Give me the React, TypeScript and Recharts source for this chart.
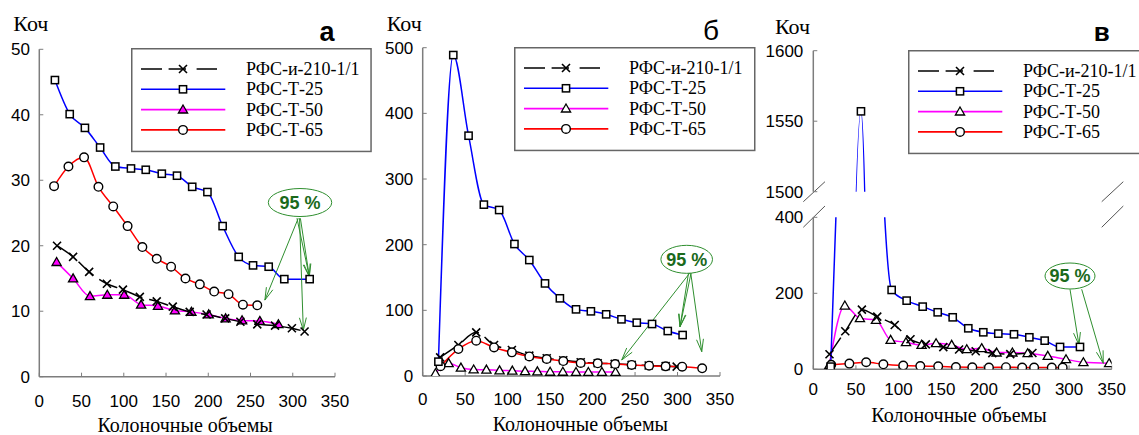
import React from "react";
import { LineChart, Line, XAxis, YAxis, ReferenceLine, ReferenceDot } from "recharts";

const SERIF = "'Liberation Serif', 'Times New Roman', serif";
const SANS = "'Liberation Sans', Arial, sans-serif";
const AXIS = "#7d7d7d";
const GREEN = "#2f8f2f";
const GREEN_TEXT = "#1b6a1b";

const NAMES = ["РФС-и-210-1/1", "РФС-Т-25", "РФС-Т-50", "РФС-Т-65"];
const KINDS = ["x", "square", "triangle", "circle"];
const COLORS = ["#000000", "#0000ff", "#ff00ff", "#ff0000"];
const DRAW_ORDER = [2, 0, 3, 1];
const X_TICKS = [0, 50, 100, 150, 200, 250, 300, 350];
const X_TITLE = "Колоночные объемы";
const Y_TITLE = "Коч";
const BADGE = "95 %";

// panel а
const A_Y_TICKS = [0, 10, 20, 30, 40, 50];
const A_I210_X = [21, 40, 59, 80, 99, 119, 139, 158, 178, 198, 220, 238, 258, 279, 299, 314];
const A_I210_Y = [20.0, 18.3, 16.0, 14.2, 13.3, 12.2, 11.5, 10.7, 9.9, 9.5, 8.9, 8.4, 8.0, 7.8, 7.4, 6.9];
const A_T25_X = [18.5, 36, 54, 72, 90, 108.5, 126, 145, 163, 181, 199, 217, 236, 253, 271.5, 290, 320];
const A_T25_Y = [45.3, 40.1, 38.0, 35.0, 32.1, 31.8, 31.6, 31.0, 30.7, 29.0, 28.2, 23.0, 18.3, 17.0, 16.8, 14.9, 14.9];
const A_T50_X = [20.5, 40, 60, 80.5, 100.5, 120.5, 140.5, 160.5, 180, 200.5, 220.5, 240, 261, 283];
const A_T50_Y = [17.5, 15.0, 12.3, 12.5, 12.5, 11.0, 10.8, 10.1, 9.9, 9.5, 8.9, 8.6, 8.5, 8.0];
const A_T65_X = [17.5, 34.5, 53, 70, 87.5, 104.5, 122, 139, 156, 173, 190, 207, 224, 241, 258];
const A_T65_Y = [29.1, 32.1, 33.5, 29.0, 26.0, 23.0, 19.8, 18.0, 16.8, 15.0, 14.1, 13.0, 12.6, 11.0, 10.9];
const A_BADGE_AT = { x: 308.6, y: 26.6 };
const A_ARROWS = [
  [{ x: 306.5, y: 24.2 }, { x: 267, y: 11.7 }],
  [{ x: 305, y: 24.2 }, { x: 319.6, y: 15.3 }],
  [{ x: 309, y: 24.2 }, { x: 319.6, y: 15.3 }],
  [{ x: 308, y: 24.2 }, { x: 312.5, y: 7.1 }],
];

// panel б
const B_Y_TICKS = [0, 100, 200, 300, 400, 500];
const B_I210_X = [20.5, 42, 63, 84, 105, 125.5, 146, 165.5, 186, 206, 226, 246, 266, 286, 299];
const B_I210_Y = [28.4, 47.2, 66.5, 47.2, 39.6, 31, 27, 24, 21, 19.5, 18.5, 17, 16, 15, 14.2];
const B_T25_X = [18.5, 36, 54, 72, 90, 108, 125.5, 144, 161.5, 180.5, 198, 216, 234, 252, 270, 288.5, 306];
const B_T25_Y = [21.8, 488.8, 366, 261, 252.8, 201, 176.6, 141, 118.3, 101.5, 98.5, 93.9, 86.3, 81.2, 79.2, 68.5, 62.4];
const B_T50_X = [15, 30.5, 45, 60, 75, 90.5, 105.5, 120.5, 135, 150, 165, 180.5, 195, 211, 227];
const B_T50_Y = [4, 19.5, 12.7, 9.8, 9.5, 8.5, 8, 7.3, 7, 6.3, 6.3, 6, 6, 6, 6];
const B_T65_X = [21, 42, 63, 84, 105, 125.5, 146, 165.5, 186, 206, 226.5, 246, 266.5, 286, 305.5, 329];
const B_T65_Y = [15, 41, 53.8, 43.5, 36, 29.8, 25.9, 22.8, 19.8, 19.3, 18.3, 16.8, 15.7, 14.7, 14.2, 11.7];
const B_BADGE_AT = { x: 310.8, y: 177.7 };
const B_ARROWS = [
  [{ x: 314.7, y: 157.3 }, { x: 234.3, y: 24.4 }],
  [{ x: 313, y: 157.3 }, { x: 302.9, y: 75.1 }],
  [{ x: 316, y: 157.3 }, { x: 302.9, y: 75.1 }],
  [{ x: 315.5, y: 157.3 }, { x: 328.5, y: 37 }],
];

// panel в (broken axis: 0–400 below, 1500–1600 above)
const C_BOT_TICKS = [0, 200, 400];
const C_TOP_TICKS = [1500, 1550, 1600];
const C_I210_X = [19, 37.5, 57, 75, 95.5, 114, 132, 152.5, 171, 190.5, 210, 231, 257];
const C_I210_Y = [39.5, 100, 157, 138.5, 116.6, 79, 65.5, 58.5, 52, 47.5, 42.5, 40, 43];
const C_T25_X = [20.4, 55.9, 91.9, 109.5, 128.3, 145.9, 163.5, 181.8, 199.4, 217, 235.4, 253.4, 271.4, 289.4, 312.8];
const C_T25_Y = [7, 1557, 208.8, 180.7, 164.9, 150, 136.8, 107.9, 97.4, 93.9, 92.1, 84.2, 75.4, 58.8, 58.8];
const C_T50_X = [18.8, 37, 54.7, 73.5, 90.7, 108.7, 127, 144, 162.3, 180, 197.5, 215, 233.5, 251.4, 275, 296.4, 316.8, 347];
const C_T50_Y = [11, 167.5, 134.2, 129.8, 77.2, 71.1, 64, 68.4, 64, 52.6, 55.3, 43.9, 43.9, 42.1, 35.1, 26.3, 18.4, 15.8];
const C_T65_X = [21, 42.3, 62, 82.2, 105.5, 125.5, 146.5, 167.3, 186.5, 206, 226, 245, 259, 279.7, 292.5];
const C_T65_Y = [12, 15, 18.5, 13.2, 10, 8.7, 7.9, 6.1, 5.2, 4.8, 5.6, 4.8, 4.8, 4.8, 4.8];
const C_BADGE_AT = { x: 301.1, y: 245.5 };
const C_ARROWS = [
  [{ x: 301.1, y: 210.5 }, { x: 311.6, y: 64 }],
  [{ x: 314.8, y: 210.5 }, { x: 340.1, y: 15.8 }],
];
const C_BREAK_TOP = [
  [{ x: -11.7, y: 1492.9 }, { x: 13.7, y: 1507.1 }],
  [{ x: 338.3, y: 1492.9 }, { x: 363.6, y: 1507.1 }],
];
const C_BREAK_BOT = [
  [{ x: -11.7, y: 373.7 }, { x: 13.7, y: 429.7 }],
  [{ x: 338.3, y: 373.7 }, { x: 363.6, y: 429.7 }],
];

type Pt = { x: number; y: number };
const zip = (xs: number[], ys: number[]): Pt[] => xs.map((x, i) => ({ x, y: ys[i] }));

const A_SETS = [zip(A_I210_X, A_I210_Y), zip(A_T25_X, A_T25_Y), zip(A_T50_X, A_T50_Y), zip(A_T65_X, A_T65_Y)];
const B_SETS = [zip(B_I210_X, B_I210_Y), zip(B_T25_X, B_T25_Y), zip(B_T50_X, B_T50_Y), zip(B_T65_X, B_T65_Y)];
const C_SETS = [zip(C_I210_X, C_I210_Y), zip(C_T25_X, C_T25_Y), zip(C_T50_X, C_T50_Y), zip(C_T65_X, C_T65_Y)];

function Marker({ kind, cx, cy, triFill }: { kind: string; cx?: number; cy?: number; triFill: string }) {
  if (cx == null || cy == null || isNaN(cx) || isNaN(cy)) return null;
  if (kind === "x")
    return <path d={`M${cx - 4},${cy - 4}L${cx + 4},${cy + 4}M${cx - 4},${cy + 4}L${cx + 4},${cy - 4}`} stroke="#000" strokeWidth={1.6} fill="none" />;
  if (kind === "square")
    return <rect x={cx - 3.6} y={cy - 3.6} width={7.2} height={7.2} fill="#fff" stroke="#000" strokeWidth={1.5} />;
  if (kind === "triangle")
    return <path d={`M${cx},${cy - 4.6}L${cx + 4.6},${cy + 3.4}L${cx - 4.6},${cy + 3.4}Z`} fill={triFill} stroke="#000" strokeWidth={1.3} />;
  return <circle cx={cx} cy={cy} r={4.3} fill="#fff" stroke="#000" strokeWidth={1.4} />;
}

function lines(sets: Pt[][], triFill: string, only?: number[]) {
  return DRAW_ORDER.filter((i) => !only || only.includes(i)).map((i) => (
    <Line key={`s${i}`} data={sets[i]} dataKey="y" type="monotone" stroke={COLORS[i]} strokeWidth={1.5}
      strokeDasharray={i === 0 ? "20 7" : undefined} activeDot={false} isAnimationActive={false}
      dot={(p: any) => <Marker key={`d${i}-${p.index}`} kind={KINDS[i]} cx={p.cx} cy={p.cy} triFill={triFill} />} />
  ));
}

const tickStyle = { fill: "#000", fontSize: 17, fontFamily: SANS };
const axisLine = { stroke: AXIS, strokeWidth: 1.5 };

function xAxis(height: number, tickMargin: number, labelOffset: number, dx: number, hide = false) {
  return (
    <XAxis key="x" dataKey="x" type="number" domain={[0, 350]} ticks={X_TICKS} interval={0} allowDataOverflow
      height={height} hide={hide} tickSize={-4} tickMargin={tickMargin} tick={tickStyle}
      axisLine={axisLine} tickLine={{ stroke: AXIS }}
      label={hide ? undefined : { value: X_TITLE, position: "insideBottom", offset: labelOffset, dx, fill: "#000", fontSize: 20, fontFamily: SERIF }} />
  );
}

function yAxis(width: number, domain: number[], ticks: number[], tickMargin: number) {
  return (
    <YAxis key="y" type="number" domain={domain} ticks={ticks} interval={0} allowDataOverflow width={width}
      tickSize={-4} tickMargin={tickMargin} tick={tickStyle} axisLine={axisLine} tickLine={{ stroke: AXIS }} />
  );
}

function frame(top: boolean) {
  const out = [
    <YAxis key="r" yAxisId="r" orientation="right" type="number" domain={[0, 1]} width={0} tick={false} tickLine={false} axisLine={axisLine} />,
  ];
  if (top)
    out.push(<XAxis key="t" xAxisId="t" orientation="top" type="number" domain={[0, 350]} height={0} tick={false} tickLine={false} axisLine={axisLine} />);
  return out;
}

const arrowShape = (p: any) => {
  const { x1, y1, x2, y2 } = p;
  const a = Math.atan2(y2 - y1, x2 - x1);
  const L = 13, w = 0.27;
  const b1 = `${x2 - L * Math.cos(a - w)},${y2 - L * Math.sin(a - w)}`;
  const b2 = `${x2 - L * Math.cos(a + w)},${y2 - L * Math.sin(a + w)}`;
  return (
    <g>
      <line x1={x1} y1={y1} x2={x2} y2={y2} stroke={GREEN} strokeWidth={1} />
      <path d={`M${b1}L${x2},${y2}L${b2}`} fill="none" stroke={GREEN} strokeWidth={1} />
    </g>
  );
};

function annotation(at: Pt, rx: number, ry: number, arrows: Pt[][]) {
  return [
    ...arrows.map((seg, i) => (
      <ReferenceLine key={`a${i}`} segment={seg} ifOverflow="visible" shape={arrowShape} />
    )),
    <ReferenceDot key="badge" x={at.x} y={at.y} ifOverflow="visible"
      shape={(p: any) => (
        <g>
          <ellipse cx={p.cx} cy={p.cy} rx={rx} ry={ry} fill="#fff" stroke={GREEN} strokeWidth={1} />
          <text x={p.cx} y={p.cy + 6.3} textAnchor="middle" fontFamily={SANS} fontWeight="bold" fontSize={18} fill={GREEN_TEXT}>{BADGE}</text>
        </g>
      )} />,
  ];
}

function breaks(segs: Pt[][]) {
  return segs.map((seg, i) => (
    <ReferenceLine key={`b${i}`} segment={seg} ifOverflow="visible" stroke="#555" strokeWidth={1} />
  ));
}

function LegendBox({ left, top, width, triFill }: { left: number; top: number; width: number; triFill: string }) {
  return (
    <svg style={{ position: "absolute", left, top, overflow: "visible" }} width={width + 2} height={106}>
      <rect x={0.75} y={0.75} width={width} height={102.7} fill="#fff" stroke="#666" strokeWidth={1.5} />
      {NAMES.map((n, i) => {
        const y = 21 + i * 20.3;
        return (
          <g key={n}>
            <line x1={10} x2={i === 0 ? 86 : 94.3} y1={y} y2={y} stroke={COLORS[i]} strokeWidth={1.6}
              strokeDasharray={i === 0 ? "21 6.6 17.4 10.6 21 100" : undefined} />
            <Marker kind={KINDS[i]} cx={52} cy={y} triFill={triFill} />
            <text x={115} y={y + 6} fontFamily={SERIF} fontSize={18} fill="#000">{n}</text>
          </g>
        );
      })}
    </svg>
  );
}

const abs = (left: number, top: number): React.CSSProperties => ({ position: "absolute", left, top });

export default function App() {
  return (
    <div style={{ position: "absolute", left: 0, top: 0, width: 1139, height: 435, background: "#fff", overflow: "hidden", fontFamily: SANS }}>
      {/* panel а */}
      <div style={abs(0, 0)}>
        <LineChart width={380} height={435} margin={{ top: 49.3, right: 45, bottom: 0, left: 0 }}>
          {xAxis(58.3, 22.5, 3, -2)}
          {yAxis(39.3, [0, 50], A_Y_TICKS, 13.3)}
          {frame(true)}
          {lines(A_SETS, "#ff00ff")}
          {annotation(A_BADGE_AT, 31.7, 14, A_ARROWS)}
        </LineChart>
      </div>
      {/* panel б */}
      <div style={abs(370, 0)}>
        <LineChart width={390} height={435} margin={{ top: 47.7, right: 40, bottom: 0, left: 0 }}>
          {xAxis(59, 20.9, 4.3, 9)}
          {yAxis(52.7, [0, 500], B_Y_TICKS, 13.4)}
          {frame(true)}
          {lines(B_SETS, "#fff")}
          {annotation(B_BADGE_AT, 25.8, 14, B_ARROWS)}
        </LineChart>
      </div>
      {/* panel в, upper part */}
      <div style={abs(750, 0)}>
        <LineChart width={389} height={212} margin={{ top: 50.7, right: 27.3, bottom: 20.3, left: 0 }}>
          {xAxis(0, 0, 0, 0, true)}
          {yAxis(63.3, [1500, 1600], C_TOP_TICKS, 14)}
          {frame(true)}
          {lines(C_SETS, "#fff", [1])}
          {breaks(C_BREAK_TOP)}
        </LineChart>
      </div>
      {/* panel в, lower part */}
      <div style={abs(750, 200)}>
        <LineChart width={389} height={235} margin={{ top: 17.3, right: 27.3, bottom: 0, left: 0 }}>
          {xAxis(65.7, 17.6, 13.3, -3.5)}
          {yAxis(63.3, [0, 400], C_BOT_TICKS, 14)}
          {frame(false)}
          {lines(C_SETS, "#fff")}
          {annotation(C_BADGE_AT, 25, 13, C_ARROWS)}
          {breaks(C_BREAK_BOT)}
        </LineChart>
      </div>

      <LegendBox left={131} top={48.3} width={239.3} triFill="#ff00ff" />
      <LegendBox left={513.6} top={47.3} width={240} triFill="#fff" />
      <LegendBox left={907.6} top={50} width={240} triFill="#fff" />

      <svg style={{ position: "absolute", left: 0, top: 0, pointerEvents: "none" }} width={1139} height={435}>
        <text x={13.3} y={30.7} fontFamily={SERIF} fontSize={22} fill="#000">{Y_TITLE}</text>
        <text x={386.7} y={30.7} fontFamily={SERIF} fontSize={22} fill="#000">{Y_TITLE}</text>
        <text x={775} y={34} fontFamily={SERIF} fontSize={22} fill="#000">{Y_TITLE}</text>
        <text x={327} y={40.7} textAnchor="middle" fontFamily={SANS} fontWeight="bold" fontSize={27} fill="#000">а</text>
        <text x={711} y={40} textAnchor="middle" fontFamily={SANS} fontSize={28} fill="#000">б</text>
        <text x={1101.7} y={40.7} textAnchor="middle" fontFamily={SANS} fontWeight="bold" fontSize={26} fill="#000">в</text>
      </svg>
    </div>
  );
}
